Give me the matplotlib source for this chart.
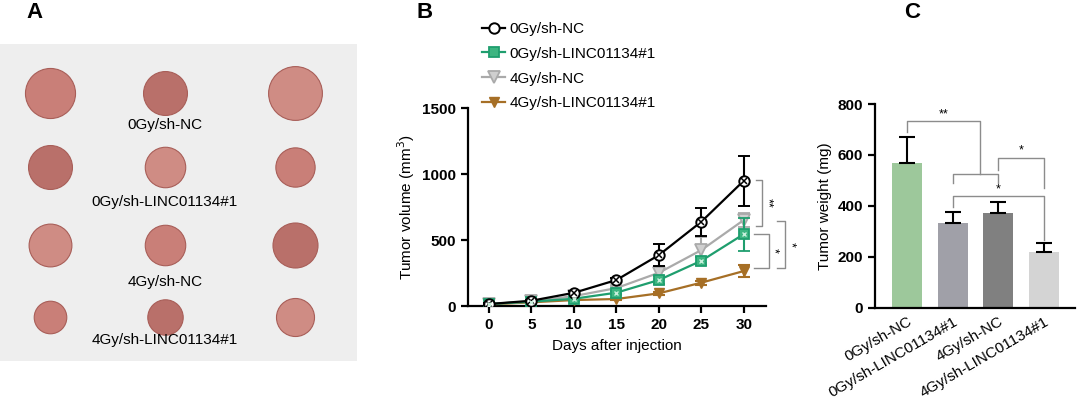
import matplotlib
matplotlib.use("Agg")
import matplotlib.pyplot as plt
import numpy as np

plt.rcParams['font.family'] = ['Liberation Sans', 'DejaVu Sans']

# ---------------- data ----------------
groups = ["0Gy/sh-NC", "0Gy/sh-LINC01134#1", "4Gy/sh-NC", "4Gy/sh-LINC01134#1"]
days = [0, 5, 10, 15, 20, 25, 30]
vol_ctrl = [15, 40, 100, 197, 386, 639, 950]
vol_ctrl_err = [5, 8, 12, 15, 82, 105, 190]
vol_kd = [15, 33, 55, 101, 197, 343, 545]
vol_kd_err = [4, 6, 8, 12, 30, 30, 125]
vol_ir = [15, 35, 75, 136, 252, 424, 652]
vol_ir_err = [4, 6, 8, 12, 45, 100, 55]
vol_irkd = [12, 28, 45, 53, 96, 177, 265]
vol_irkd_err = [3, 5, 6, 8, 12, 15, 45]
weight = [567, 334, 371, 220]
weight_err = [102, 42, 45, 33]
tumor_sizes = [[1300, 1000, 1500], [1000, 850, 800], [950, 850, 1050], [550, 650, 750]]

# ---------------- figure ----------------
fig = plt.figure(figsize=(10.79, 4.01), dpi=100)
W, H = 1079, 401
FS = 11

def ax_px(l, t, r, b):
    return fig.add_axes([l / W, 1 - b / H, (r - l) / W, (b - t) / H])

# Panel A (photo placeholder)
axA = ax_px(0, 44, 357, 361)
axA.set_xlim(0, 357)
axA.set_ylim(317, 0)
axA.set_facecolor('#eeeeee')
for s in axA.spines.values():
    s.set_visible(False)
axA.set_xticks([])
axA.set_yticks([])
row_y = [49, 123, 201, 273]
col_x = [50, 165, 295]
lab_y = [81, 158, 238, 296]
tcols = ['#c97f78', '#b9706a', '#cf8c84']
for i in range(4):
    for j in range(3):
        axA.scatter(col_x[j], row_y[i], s=tumor_sizes[i][j], marker='o',
                    color=tcols[(i + j) % 3], edgecolors='#a85e58', linewidths=0.8)
    axA.text(165, lab_y[i], groups[i], ha='center', va='center', fontsize=FS)

# Panel B
axB = ax_px(468, 108, 766, 306)
axB.set_ylim(0, 1500)
axB.set_xlim(-2.47, 32.6)
ebkw = dict(capsize=4, capthick=1.5, elinewidth=1.5)
e4 = axB.errorbar(days, vol_irkd, yerr=vol_irkd_err, color='#a66f26', marker='v', ms=7,
                  lw=1.6, zorder=3, **ebkw)
e3 = axB.errorbar(days, vol_ir, yerr=vol_ir_err, color='#aaaaaa', marker='v', ms=8,
                  mfc='#cfcfcf', mec='#aaaaaa', mew=1.3, lw=1.6, zorder=4, **ebkw)
e2 = axB.errorbar(days, vol_kd, yerr=vol_kd_err, color='#1f9e6e', marker='s', ms=7,
                  mfc='#3db581', mec='#1f9e6e', mew=1.3, lw=1.6, zorder=5, **ebkw)
e1 = axB.errorbar(days, vol_ctrl, yerr=vol_ctrl_err, color='black', marker='o', ms=7.5,
                  mfc='white', mec='black', mew=1.4, lw=1.6, zorder=6, **ebkw)
axB.plot(days, vol_ctrl, ls='none', marker='x', ms=4, color='black', mew=1.1, zorder=7)
axB.plot(days, vol_kd, ls='none', marker='x', ms=3.5, color='#c8f0dc', mew=1, zorder=7)
for s in ['top', 'right']:
    axB.spines[s].set_visible(False)
for s in ['left', 'bottom']:
    axB.spines[s].set_linewidth(1.6)
axB.set_xticks(days)
axB.set_yticks([0, 500, 1000, 1500])
axB.tick_params(width=1.6, length=5, labelsize=FS)
for t in axB.get_xticklabels() + axB.get_yticklabels():
    t.set_fontweight('bold')
axB.set_xlabel('Days after injection', fontsize=FS, labelpad=5)
axB.set_ylabel('Tumor volume (mm$^3$)', fontsize=FS, labelpad=4)

handles = [e1[0], e2[0], e3[0], e4[0]]
leg = axB.legend(handles, groups, loc='upper left',
                 bbox_to_anchor=(476 / W, 1 - 16 / H), bbox_transform=fig.transFigure,
                 frameon=False, fontsize=FS, handlelength=1.5, handletextpad=0.3,
                 labelspacing=0.7, borderaxespad=0)

bc = '#8c8c8c'
def vbracket(ax, x0, x1, y0, y1, txt, tx):
    ax.plot([x0, x1, x1, x0], [y0, y0, y1, y1], color=bc, lw=1, clip_on=False)
    ax.text(tx, (y0 + y1) / 2, txt, rotation=270, ha='center', va='center',
            fontsize=9, clip_on=False)

vbracket(axB, 31.4, 32.1, 955, 606, '**', 32.8)
vbracket(axB, 31.2, 32.9, 545, 290, '*', 33.5)
vbracket(axB, 33.9, 34.8, 644, 288, '*', 35.5)

# Panel C
axC = ax_px(875, 104, 1075, 307.7)
xpos = np.arange(len(groups))
bar_cols = ['#9dc89b', '#a0a0a8', '#808080', '#d4d4d4']
axC.bar(xpos, weight, width=0.66, color=bar_cols, zorder=2)
axC.errorbar(xpos, weight, yerr=[np.zeros(4), weight_err], fmt='none', ecolor='black',
             capsize=6, capthick=1.5, elinewidth=1.5, zorder=3)
axC.set_xlim(-0.70, 3.68)
axC.set_ylim(0, 800)
axC.set_yticks([0, 200, 400, 600, 800])
axC.set_xticks(xpos)
axC.set_xticklabels(groups, rotation=30, ha='right', rotation_mode='anchor', fontsize=FS)
for s in ['top', 'right']:
    axC.spines[s].set_visible(False)
for s in ['left', 'bottom']:
    axC.spines[s].set_linewidth(1.6)
axC.tick_params(axis='y', width=1.6, length=5, labelsize=FS)
axC.tick_params(axis='x', length=0, pad=5)
for t in axC.get_yticklabels():
    t.set_fontweight('bold')
axC.set_ylabel('Tumor weight (mg)', fontsize=FS, labelpad=4)

def hbr(ax, x0, x1, y, yl, yr, txt=None, tx=None):
    ax.plot([x0, x0, x1, x1], [yl, y, y, yr], color=bc, lw=1, clip_on=False)
    if txt:
        ax.text(tx, y + 4, txt, ha='center', va='bottom', fontsize=9)

hbr(axC, 1.0, 2.0, 524, 490, 490)
hbr(axC, 0.0, 1.6, 733, 690, 524, '**', 0.8)
hbr(axC, 2.0, 3.0, 589, 540, 470, '*', 2.5)
hbr(axC, 1.0, 3.0, 438, 397, 266, '*', 2.0)

# Panel letters
for letter, x in [('A', 35), ('B', 425), ('C', 912)]:
    fig.text(x / W, 1 - 12 / H, letter, fontsize=16, fontweight='bold', ha='center', va='center')

fig.savefig('out.png', dpi=100)
